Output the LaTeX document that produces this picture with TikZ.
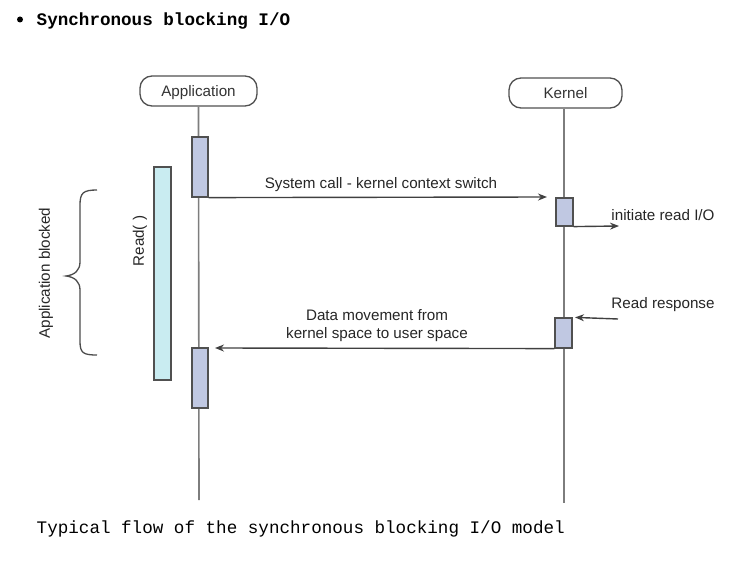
\documentclass[tikz,border=0pt]{standalone}
\usepackage{fontspec}
\setmainfont{Liberation Sans}
\newfontfamily\monofont{Liberation Mono}
\usetikzlibrary{arrows.meta,calc}
\definecolor{actfill}{RGB}{192,200,226}
\definecolor{readfill}{RGB}{201,236,241}
\definecolor{edge}{RGB}{80,80,80}
\definecolor{lifeg}{RGB}{125,125,125}
\tikzset{
  actor/.style={draw=edge, line width=1.3pt, rounded corners=12pt, minimum width=117pt, minimum height=30pt, inner sep=0pt, font=\fontsize{15.2}{18}\selectfont, text=black!80, text depth=0pt, text height=11pt},
  actbox/.style={draw=edge, line width=1.2pt, fill=actfill, inner sep=0pt},
  life/.style={draw=lifeg, line width=1.6pt},
  msg/.style={draw=black!75, line width=1.4pt, -{Stealth[length=9pt,width=7pt]}},
  lbl/.style={font=\fontsize{15.2}{18}\selectfont, text=black!85, inner sep=0pt, align=center},
}
\begin{document}
\begin{tikzpicture}[x=1pt,y=-1pt]
\useasboundingbox (0,0) rectangle (733,569);
% title
\fill (20,19.5) circle (3);
\node[anchor=west, inner sep=0pt, font=\monofont\bfseries\fontsize{17.6}{20}\selectfont] (title) at (36.5,20.5) {Synchronous blocking I/O};
% actors
\node[actor] (app) at (198.5,91) {Application};
\node[actor, minimum width=113pt] (ker) at (565.5,93) {Kernel};
% lifelines
\coordinate (append) at (199,500);
\coordinate (kerend) at (564,503);
\draw[life] (app.south) -- (append);
\draw[life] (ker.south -| kerend) -- (kerend);
% activation boxes
\node[actbox, minimum width=16pt, minimum height=60pt] (a1) at (200,167) {};
\node[actbox, minimum width=16pt, minimum height=60pt] (a2) at (200,378) {};
\node[actbox, minimum width=17pt, minimum height=28pt] (k1) at (564.5,212) {};
\node[actbox, minimum width=17pt, minimum height=30pt] (k2) at (563.5,333) {};
% read bar
\node[draw=edge, line width=1.2pt, fill=readfill, minimum width=17pt, minimum height=213pt, inner sep=0pt] (rd) at (162.5,273.5) {};
\node[lbl, rotate=90] (rdl) at (140,241) {Read( )};
% brace
\draw[draw=black!70, line width=1.3pt] (97,190) .. controls (83,190) and (80,193) .. (80,205) -- (80,262) .. controls (80,270) and (75,275) .. (66,276) .. controls (75,277) and (80,282) .. (80,290) -- (80,341) .. controls (80,353) and (83,355) .. (97,355);
\node[lbl, rotate=90] (blk) at (46,273) {Application blocked};
% messages
\coordinate (m1end) at (547,197);
\draw[msg] (a1.south east) -- (m1end);
\node[lbl] (m1l) at (381,184.5) {System call - kernel context switch};
\coordinate (ioend) at (619,226);
\draw[msg] (k1.south east) -- (ioend);
\node[lbl] (iol) at (663,215.5) {initiate read I/O};
\coordinate (rrstart) at (618,319);
\draw[msg] (rrstart) -- (k2.north east -| 575,0);
\node[lbl] (rrl) at (663,304.5) {Read response};
\coordinate (m2end) at (215,348);
\draw[msg] (k2.south west) -- (m2end);
\node[lbl, font=\fontsize{15.2}{18}\selectfont] (m2l) at (377,326) {Data movement from\\kernel space to user space};
% caption
\node[anchor=west, inner sep=0pt, font=\monofont\fontsize{17.6}{20}\selectfont] (cap) at (36.5,528.5) {Typical flow of the synchronous blocking I/O model};
\end{tikzpicture}
\end{document}
